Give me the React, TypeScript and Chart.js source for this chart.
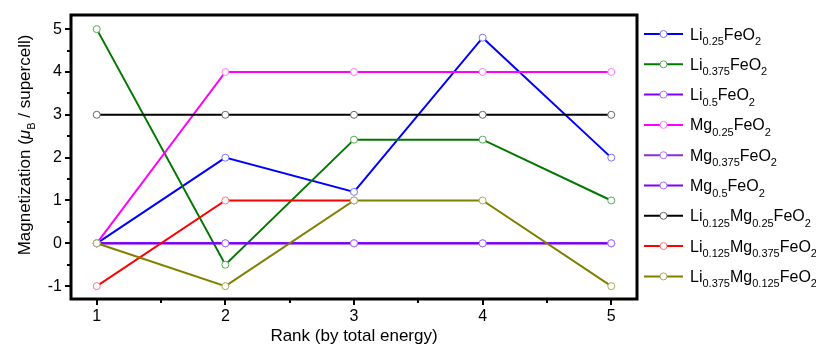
import React, { useEffect, useRef } from 'react';
import { Chart, registerables } from 'chart.js';
Chart.register(...registerables);

const ranks = [1, 2, 3, 4, 5];
const xTicks = [1, 2, 3, 4, 5];
const yTicks = [-1, 0, 1, 2, 3, 4, 5];
const xMinor = [1.5, 2.5, 3.5, 4.5];
const yMinor = [-0.5, 0.5, 1.5, 2.5, 3.5, 4.5];

const seriesLabels = [
  'Li_{0.25}FeO_{2}',
  'Li_{0.375}FeO_{2}',
  'Li_{0.5}FeO_{2}',
  'Mg_{0.25}FeO_{2}',
  'Mg_{0.375}FeO_{2}',
  'Mg_{0.5}FeO_{2}',
  'Li_{0.125}Mg_{0.25}FeO_{2}',
  'Li_{0.125}Mg_{0.375}FeO_{2}',
  'Li_{0.375}Mg_{0.125}FeO_{2}',
];
const li025 = [0, 2, 1.2, 4.8, 2];
const li0375 = [5, -0.5, 2.42, 2.42, 1];
const li05 = [0, 0, 0, 0, 0];
const mg025 = [0, 4, 4, 4, 4];
const mg0375 = [0, 0, 0, 0, 0];
const mg05 = [0, 0, 0, 0, 0];
const li0125mg025 = [3, 3, 3, 3, 3];
const li0125mg0375 = [-1, 1, 1, null, null];
const li0375mg0125 = [0, -1, 1, 1, -1];
const seriesValues = [li025, li0375, li05, mg025, mg0375, mg05, li0125mg025, li0125mg0375, li0375mg0125];
const seriesColors = ['#0000ff', '#007700', '#8000ff', '#ff00ff', '#8a2be2', '#7a00ff', '#000000', '#ff0000', '#808000'];
const markerColors = ['#7777ff', '#55aa55', '#b070ff', '#ff77ff', '#b070ff', '#a070ff', '#666666', '#ff7777', '#aaaa55'];

const xTitle = 'Rank (by total energy)';
const FONT = '"Liberation Sans", Arial, sans-serif';

function parseRich(label: string) {
  const segs: { t: string; sub: boolean }[] = [];
  const re = /_\{([^}]*)\}/g;
  let last = 0;
  let m;
  while ((m = re.exec(label))) {
    if (m.index > last) segs.push({ t: label.slice(last, m.index), sub: false });
    segs.push({ t: m[1], sub: true });
    last = m.index + m[0].length;
  }
  if (last < label.length) segs.push({ t: label.slice(last), sub: false });
  return segs;
}

function drawRich(ctx: CanvasRenderingContext2D, label: string, x: number, y: number) {
  let cx = x;
  for (const s of parseRich(label)) {
    ctx.font = s.sub ? `11px ${FONT}` : `16px ${FONT}`;
    ctx.fillText(s.t, cx, s.sub ? y + 5.5 : y);
    cx += ctx.measureText(s.t).width;
  }
}

const decorPlugin = {
  id: 'decor',
  afterDraw(chart: any) {
    const ctx: CanvasRenderingContext2D = chart.ctx;
    const { left, right, top, bottom } = chart.chartArea;
    const xs = chart.scales.x;
    const ys = chart.scales.y;
    ctx.save();
    ctx.strokeStyle = '#000';
    ctx.lineWidth = 3;
    ctx.strokeRect(left, top, right - left, bottom - top);
    ctx.lineWidth = 2;
    ctx.beginPath();
    for (const v of xTicks) {
      const p = Math.round(xs.getPixelForValue(v));
      ctx.moveTo(p, bottom); ctx.lineTo(p, bottom + 6);
    }
    for (const v of xMinor) {
      const p = Math.round(xs.getPixelForValue(v));
      ctx.moveTo(p, bottom); ctx.lineTo(p, bottom + 4);
    }
    for (const v of yTicks) {
      const p = Math.round(ys.getPixelForValue(v));
      ctx.moveTo(left, p); ctx.lineTo(left - 6, p);
    }
    for (const v of yMinor) {
      const p = Math.round(ys.getPixelForValue(v));
      ctx.moveTo(left, p); ctx.lineTo(left - 4, p);
    }
    ctx.stroke();

    // x title
    ctx.fillStyle = '#000';
    ctx.font = `17px ${FONT}`;
    ctx.textAlign = 'center';
    ctx.textBaseline = 'middle';
    ctx.fillText(xTitle, (left + right) / 2, 336);

    // y title
    ctx.save();
    ctx.translate(24, 145);
    ctx.rotate(-Math.PI / 2);
    ctx.textAlign = 'left';
    ctx.textBaseline = 'alphabetic';
    const parts = [
      { t: 'Magnetization (', f: `17px ${FONT}`, dy: 0 },
      { t: 'μ', f: `italic 17px ${FONT}`, dy: 0 },
      { t: 'B', f: `11px ${FONT}`, dy: 5 },
      { t: ' / supercell)', f: `17px ${FONT}`, dy: 0 },
    ];
    let total = 0;
    for (const p of parts) { ctx.font = p.f; total += ctx.measureText(p.t).width; }
    let cx = -total / 2;
    for (const p of parts) {
      ctx.font = p.f;
      ctx.fillText(p.t, cx, 6 + p.dy);
      cx += ctx.measureText(p.t).width;
    }
    ctx.restore();

    // legend
    ctx.textAlign = 'left';
    ctx.textBaseline = 'alphabetic';
    seriesLabels.forEach((lab, i) => {
      const y = 34 + i * 30.3;
      ctx.strokeStyle = seriesColors[i];
      ctx.lineWidth = 2;
      ctx.beginPath();
      ctx.moveTo(644, y); ctx.lineTo(683, y);
      ctx.stroke();
      ctx.beginPath();
      ctx.arc(663.5, y, 3.5, 0, Math.PI * 2);
      ctx.fillStyle = '#fff';
      ctx.fill();
      ctx.lineWidth = 1;
      ctx.strokeStyle = markerColors[i];
      ctx.stroke();
      ctx.fillStyle = '#000';
      drawRich(ctx, lab, 690, y + 5.5);
    });
    ctx.restore();
  },
};

function zeroPad(s: any) {
  s.paddingTop = 0;
  s.paddingBottom = 0;
  s.paddingLeft = 0;
  s.paddingRight = 0;
}

export default function App() {
  const ref = useRef<HTMLCanvasElement>(null);
  useEffect(() => {
    if (!ref.current) return;
    const n = seriesLabels.length;
    const chart = new Chart(ref.current, {
      type: 'line',
      data: {
        datasets: seriesLabels.map((lab, i) => ({
          label: lab,
          data: ranks.map((r, j) => ({ x: r, y: seriesValues[i][j] as any })),
          borderColor: seriesColors[i],
          borderWidth: 2,
          pointRadius: 3.5,
          pointBorderWidth: 1,
          pointBackgroundColor: '#ffffff',
          pointBorderColor: markerColors[i],
          spanGaps: false,
          order: n - 1 - i,
        })),
      },
      options: {
        animation: false,
        responsive: true,
        maintainAspectRatio: false,
        layout: { padding: { left: 0, top: 15, right: 179, bottom: 0 } },
        plugins: { legend: { display: false }, tooltip: { enabled: false } },
        scales: {
          x: {
            type: 'linear',
            min: 0.8,
            max: 5.2,
            grid: { display: false, drawTicks: false },
            border: { display: false },
            afterBuildTicks: (s: any) => { s.ticks = xTicks.map((v) => ({ value: v })); },
            afterFit: (s: any) => { s.height = 51; zeroPad(s); },
            ticks: { padding: 8, color: '#000', font: { family: FONT, size: 16 }, maxRotation: 0 },
          },
          y: {
            type: 'linear',
            min: -1.3,
            max: 5.33,
            grid: { display: false, drawTicks: false },
            border: { display: false },
            afterBuildTicks: (s: any) => { s.ticks = yTicks.map((v) => ({ value: v })); },
            afterFit: (s: any) => { s.width = 71; zeroPad(s); },
            ticks: { padding: 9, color: '#000', font: { family: FONT, size: 16 } },
          },
        },
      },
      plugins: [decorPlugin],
    });
    return () => chart.destroy();
  }, []);
  return (
    <div style={{ position: 'fixed', left: 0, top: 0, width: 816, height: 350, background: '#fff' }}>
      <canvas ref={ref} />
    </div>
  );
}
